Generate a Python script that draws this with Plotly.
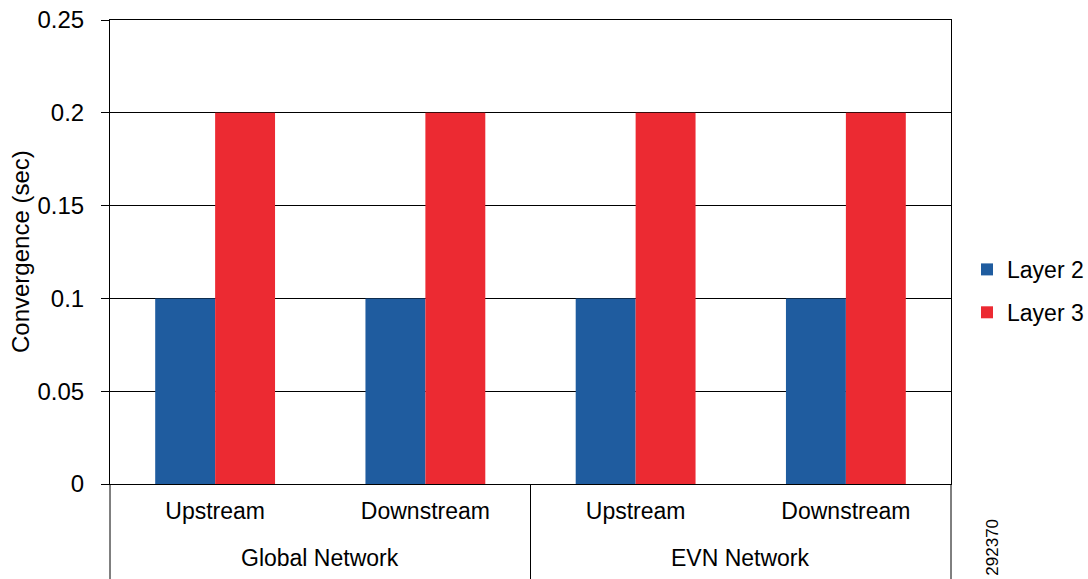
import plotly.graph_objects as go

groups = ["Global Network", "Global Network", "EVN Network", "EVN Network"]
directions = ["Upstream", "Downstream", "Upstream", "Downstream"]
layer2 = [0.1, 0.1, 0.1, 0.1]
layer3 = [0.2, 0.2, 0.2, 0.2]
y_ticks = [0, 0.05, 0.1, 0.15, 0.2, 0.25]

FONT = "Liberation Sans, Arial, sans-serif"
positions = list(range(len(directions)))
n = len(directions)

fig = go.Figure()
fig.add_trace(go.Bar(x=positions, y=layer2, name="Layer 2", legendgroup="l2",
                     marker=dict(color="#1F5C9F", line=dict(width=0))))
fig.add_trace(go.Bar(x=positions, y=layer3, name="Layer 3", legendgroup="l3",
                     marker=dict(color="#EC2A32", line=dict(width=0))))

fig.update_layout(
    width=1088, height=579,
    margin=dict(l=110, r=137, t=20, b=95),
    paper_bgcolor="white", plot_bgcolor="white",
    font=dict(family=FONT, size=24, color="black"),
    barmode="group", bargap=0.43, bargroupgap=0,
    showlegend=True,
    legend=dict(xref="container", yref="container", x=0.8888, y=0.4975,
                xanchor="left", yanchor="middle",
                font=dict(size=23), traceorder="grouped", tracegroupgap=10),
)
fig.update_yaxes(range=[0, 0.25], tickvals=y_ticks, showgrid=True, gridcolor="black", gridwidth=1,
                 showline=True, linecolor="black", linewidth=1, mirror=True,
                 ticks="outside", ticklen=8, tickcolor="black", ticklabelstandoff=12,
                 ticklabeloverflow="allow", tickfont=dict(size=24), automargin=False,
                 zeroline=False)
fig.update_xaxes(range=[-0.5, n - 0.5], tickvals=positions, ticktext=directions,
                 showline=True, linecolor="black", linewidth=1, mirror=True,
                 showgrid=False, zeroline=False, ticks="", ticklabelstandoff=6,
                 tickfont=dict(size=23), automargin=False)

# y-axis title
fig.add_annotation(text="Convergence (sec)", xref="paper", yref="paper", x=-0.107, y=0.5,
                   showarrow=False, textangle=-90, xanchor="center", yanchor="middle",
                   font=dict(size=24, family=FONT))

# group labels and dividers
group_names = []
for g in groups:
    if g not in group_names:
        group_names.append(g)
for g in group_names:
    idx = [i for i, v in enumerate(groups) if v == g]
    center = (min(idx) + max(idx) + 1) / 2 / n
    fig.add_annotation(text=g, xref="paper", yref="paper", x=center, y=-0.1595,
                       showarrow=False, xanchor="center", yanchor="middle",
                       font=dict(size=23, family=FONT))
bounds = [0] + [i for i in range(1, n) if groups[i] != groups[i - 1]] + [n]
for b in bounds:
    fig.add_shape(type="line", xref="paper", yref="paper", x0=b / n, x1=b / n,
                  y0=0, y1=-0.25, line=dict(color="black", width=1))

fig.add_annotation(text="292370", xref="paper", yref="paper", x=1.049, y=-0.071,
                   showarrow=False, textangle=-90, font=dict(size=17, family=FONT),
                   xanchor="center", yanchor="top")

fig.write_html("out.html", config={"displayModeBar": False},
               post_script="document.body.style.margin='0';")
